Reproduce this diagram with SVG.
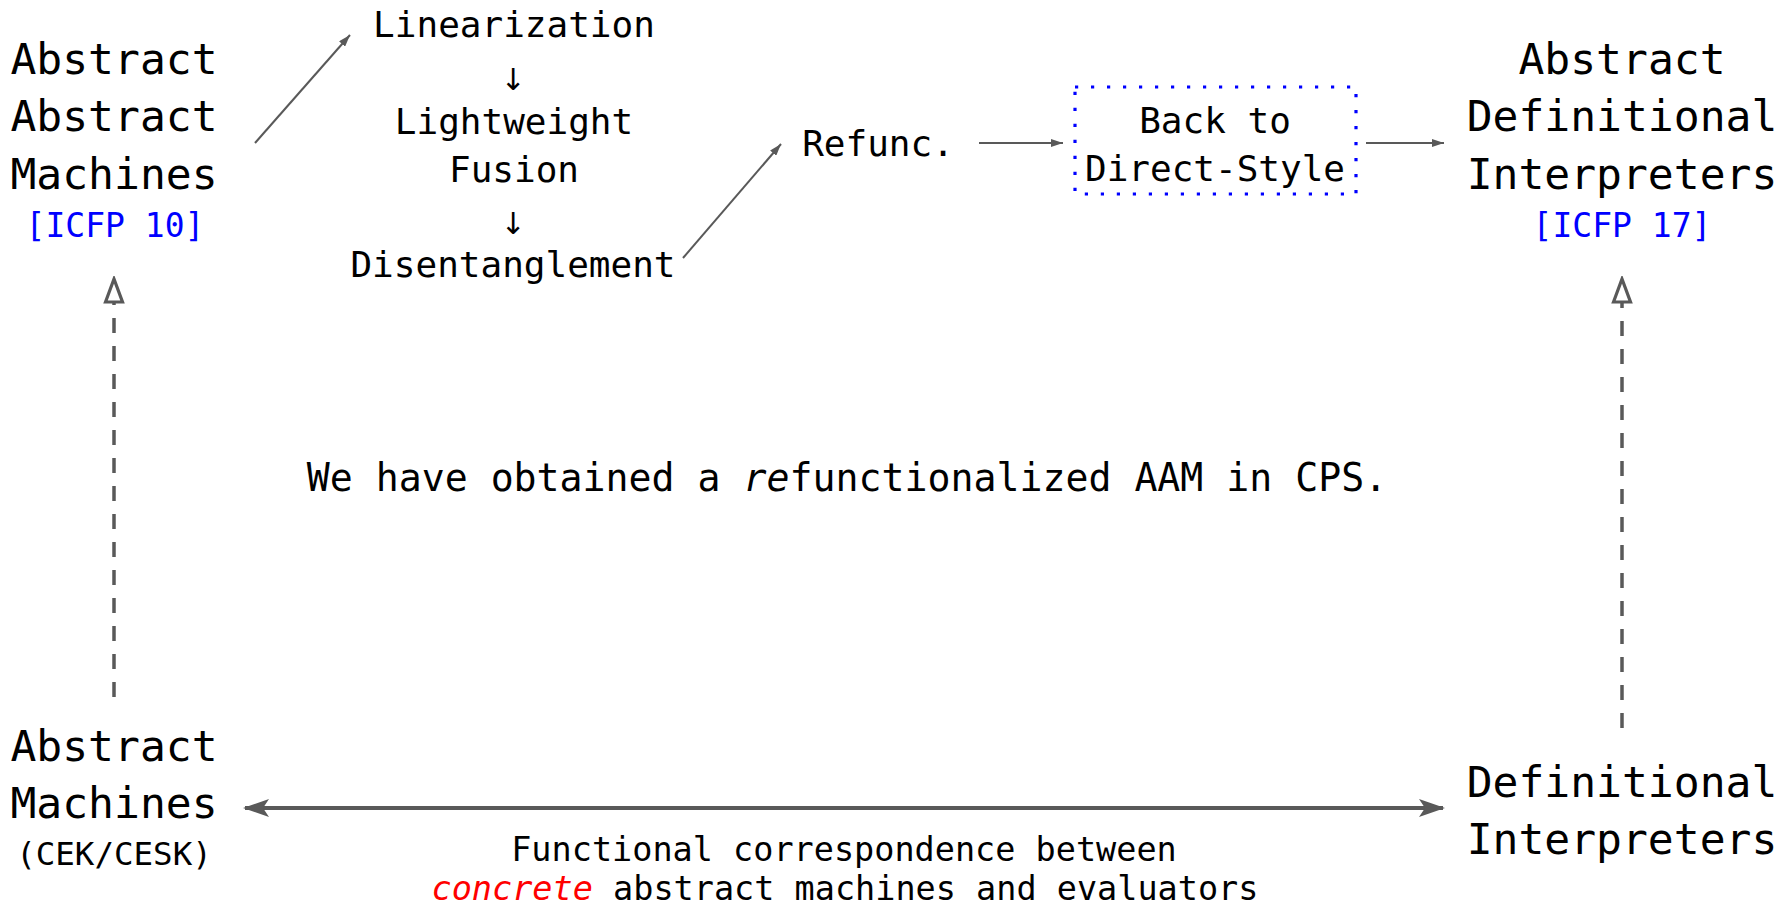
<svg xmlns="http://www.w3.org/2000/svg" width="1781" height="908" viewBox="0 0 1781 908">
<style>
text{font-family:"DejaVu Sans Mono","Liberation Mono",monospace;fill:#000}
.big{font-size:43px}
.mid{font-size:36px}
.ref{font-size:33px;fill:#0000ff}
.small{font-size:32.5px}
.foot{font-size:33.5px}
.note{font-size:38.2px}
.arr{font-family:"DejaVu Sans",sans-serif;font-size:30px}
.c{text-anchor:middle}
.it{font-style:italic}
.red{fill:#ff0000}
.thin{stroke:#595959;stroke-width:2;fill:none}
.dash{stroke:#595959;stroke-width:3.5;stroke-dasharray:15 13;fill:none}
.thick{stroke:#595959;stroke-width:4;fill:none}
</style>
<defs>
<marker id="sm" markerUnits="userSpaceOnUse" viewBox="0 0 12 8" markerWidth="12" markerHeight="8" refX="12" refY="4" orient="auto"><path d="M0,0 L12,4 L0,8 z" fill="#595959"/></marker>
<marker id="big" markerUnits="userSpaceOnUse" viewBox="0 0 26 18" markerWidth="26" markerHeight="18" refX="24" refY="9" orient="auto-start-reverse"><path d="M0,0 L26,9 L0,18 L6,9 z" fill="#595959"/></marker>
<marker id="open" markerUnits="userSpaceOnUse" viewBox="0 0 28 22" markerWidth="28" markerHeight="22" refX="2" refY="11" orient="auto"><path d="M2,2.5 L25,11 L2,19.5 z" fill="#fff" stroke="#595959" stroke-width="3.2" stroke-linejoin="miter"/></marker>
</defs>

<g id="connectors">
<line class="thin" x1="255" y1="143" x2="350" y2="35" marker-end="url(#sm)"/>
<line class="thin" x1="683" y1="258" x2="781" y2="144" marker-end="url(#sm)"/>
<line class="thin" x1="979" y1="143" x2="1063" y2="143" marker-end="url(#sm)"/>
<line class="thin" x1="1366" y1="143" x2="1444" y2="143" marker-end="url(#sm)"/>
<line class="dash" x1="114" y1="697" x2="114" y2="302" marker-end="url(#open)"/>
<line class="dash" x1="1622" y1="728" x2="1622" y2="302" marker-end="url(#open)"/>
<line class="thick" x1="245" y1="808" x2="1443" y2="808" marker-start="url(#big)" marker-end="url(#big)"/>
</g>

<g id="aam">
<text class="big c" x="114" y="74">Abstract</text>
<text class="big c" x="114" y="131">Abstract</text>
<text class="big c" x="114" y="189">Machines</text>
<text class="ref c" x="115" y="237">[ICFP 10]</text>
</g>

<g id="adi">
<text class="big c" x="1622" y="74">Abstract</text>
<text class="big c" x="1622" y="131">Definitional</text>
<text class="big c" x="1622" y="189">Interpreters</text>
<text class="ref c" x="1622" y="237">[ICFP 17]</text>
</g>

<g id="am">
<text class="big c" x="114" y="761">Abstract</text>
<text class="big c" x="114" y="818">Machines</text>
<text class="small c" x="114" y="865">(CEK/CESK)</text>
</g>

<g id="di">
<text class="big c" x="1622" y="797">Definitional</text>
<text class="big c" x="1622" y="854">Interpreters</text>
</g>

<g id="steps">
<text class="mid c" x="514" y="37">Linearization</text>
<text class="arr c" x="513" y="90">↓</text>
<text class="mid c" x="514" y="134">Lightweight</text>
<text class="mid c" x="514" y="182">Fusion</text>
<text class="arr c" x="513" y="234">↓</text>
<text class="mid c" x="513" y="277">Disentanglement</text>
</g>

<g id="refunc">
<text class="mid c" x="878" y="156">Refunc.</text>
</g>

<g id="direct">
<rect x="1075" y="87" width="281" height="107" fill="none" stroke="#0000ff" stroke-width="3.2" stroke-dasharray="3.2 12.8"/>
<text class="mid c" x="1215" y="133">Back to</text>
<text class="mid c" x="1215" y="181">Direct-Style</text>
</g>

<g id="note">
<text class="note c" x="847" y="491">We have obtained a <tspan class="it">re</tspan>functionalized AAM in CPS.</text>
</g>

<g id="caption">
<text class="foot c" x="844" y="861">Functional correspondence between</text>
<text class="foot c" x="845" y="900"><tspan class="it red">concrete</tspan> abstract machines and evaluators</text>
</g>
</svg>
